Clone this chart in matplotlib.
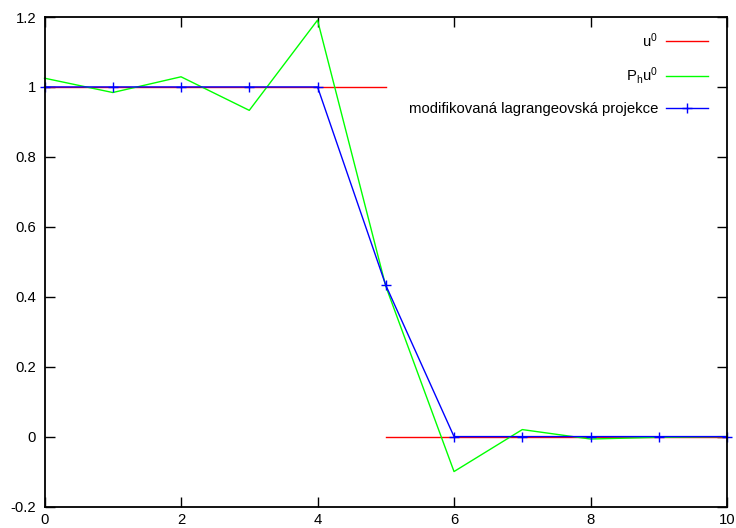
import numpy as np
import matplotlib
matplotlib.use("Agg")
import matplotlib.pyplot as plt

plt.rcParams['font.family'] = ['Liberation Sans', 'DejaVu Sans']
plt.rcParams['mathtext.default'] = 'regular'

# u0: step function (discontinuity at x=5, not joined)
u0_x = [0, 5, np.nan, 5, 10]
u0_y = [1, 1, np.nan, 0, 0]

x_nodes = [0, 1, 2, 3, 4, 5, 6, 7, 8, 9, 10]
ph_u0 = [1.025, 0.984, 1.029, 0.933, 1.191, 0.43, -0.10, 0.02, -0.007, -0.002, 0.0]
lagr = [1, 1, 1, 1, 1, 0.433, 0, 0, 0, 0, 0]

labels = ['u$^0$', 'P$_h$u$^0$', 'modifikovaná lagrangeovská projekce']
xticks = [0, 2, 4, 6, 8, 10]
yticks = [-0.2, 0, 0.2, 0.4, 0.6, 0.8, 1, 1.2]
yticklabels = ['-0.2', '0', '0.2', '0.4', '0.6', '0.8', '1', '1.2']

fig = plt.figure(figsize=(7.36, 5.28), dpi=100)
ax = fig.add_axes([0.0605, 0.0407, 0.9273, 0.9271])

ax.plot(u0_x, u0_y, color='#ff0000', lw=1.0, label=labels[0])
ax.plot(x_nodes, ph_u0, color='#00ff00', lw=1.0, label=labels[1], clip_on=False)
ax.plot(x_nodes, lagr, color='#0000ff', lw=1.0, marker='+', markersize=7,
        mew=1.0, label=labels[2], clip_on=False)

ax.set_xlim(0, 10)
ax.set_ylim(-0.2, 1.2)
ax.set_xticks(xticks)
ax.set_xticklabels([str(t) for t in xticks])
ax.set_yticks(yticks)
ax.set_yticklabels(yticklabels)
ax.tick_params(direction='in', length=7, width=1.0, top=True, right=True,
               labelsize=10.7, colors='black')
ax.tick_params(axis='y', pad=6)
ax.tick_params(axis='x', pad=5)
for s in ax.spines.values():
    s.set_linewidth(1.3)

leg = ax.legend(loc='upper right', frameon=False, markerfirst=False,
                fontsize=10.7, labelspacing=1.05, handlelength=2.83,
                handletextpad=0.54, borderaxespad=0.54,
                bbox_to_anchor=(0.9927, 1.0))
for t in leg.get_texts():
    t.set_ha('right')

fig.savefig('out.png', dpi=100)
